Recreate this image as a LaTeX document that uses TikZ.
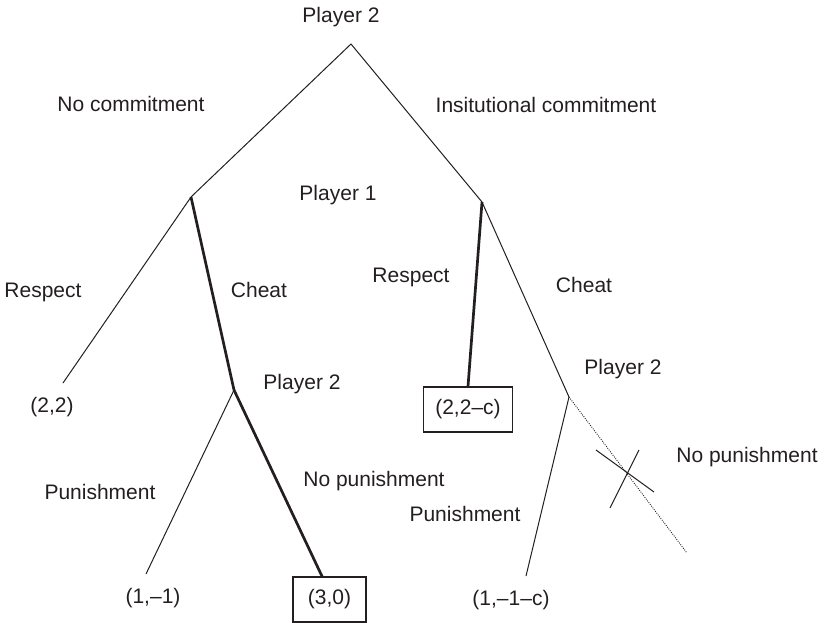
\documentclass[tikz,border=0pt]{standalone}
\usepackage{fontspec}
\setmainfont{Liberation Sans}
\usetikzlibrary{calc}
\definecolor{ink}{HTML}{231F20}
\tikzset{
  lbl/.style={text=ink, inner sep=0pt, font=\fontsize{21}{25}\selectfont},
  branch/.style={draw=ink, line width=1pt},
  chosen/.style={draw=ink, line width=2.7pt},
  pruned/.style={draw=ink, line width=0.9pt, dash pattern=on 0.9pt off 1.3pt},
  payoffbox/.style={lbl, draw=ink, line width=1.1pt, minimum height=45pt, inner xsep=12pt},
}
\begin{document}
\begin{tikzpicture}[x=1pt,y=-1pt]
\useasboundingbox (0,0) rectangle (824,622);

% decision vertices
\coordinate (r) at (351,44);
\coordinate (a) at (191,197);
\coordinate (b) at (482,202);
\coordinate (c) at (234,390);
\coordinate (d) at (569,397);

% terminal points
\coordinate (t22) at (63,383);
\coordinate (t11) at (146,574);
\coordinate (t11c) at (526,576);
\coordinate (tnp) at (687,553);
\node[payoffbox, minimum width=73pt] (box30) at (329.5,599.5) {(3,0)};
\node[payoffbox] (box22c) at (468,409.5) {(2,2–c)};

% crossing mark on the pruned branch
\coordinate (xa1) at (596,450);
\coordinate (xa2) at (654,492);
\coordinate (xb1) at (639,450);
\coordinate (xb2) at (610,508);

% branches
\draw[branch] (a) -- (r) -- (b);
\draw[branch] (a) -- (t22);
\draw[chosen] (a) -- (c);
\draw[branch] (c) -- (t11);
\draw[chosen] (c) -- ($(box30.north west)!0.4!(box30.north east)$);
\draw[chosen] (b) -- (box22c.north);
\draw[branch] (b) -- (d);
\draw[branch] (d) -- (t11c);
\draw[pruned] (d) -- (tnp);
\draw[branch] (xa1) -- (xa2);
\draw[branch] (xb1) -- (xb2);

% labels
\node[lbl] (p2top) at (341,17) {Player 2};
\node[lbl] (nocom) at (131,104) {No commitment};
\node[lbl] (inscom) at (546,105) {Insitutional commitment};
\node[lbl] (p1) at (338,195) {Player 1};
\node[lbl] (respL) at (43,292) {Respect};
\node[lbl] (cheatL) at (259,290) {Cheat};
\node[lbl] (respR) at (411,277) {Respect};
\node[lbl] (cheatR) at (584,285) {Cheat};
\node[lbl] (p2mid) at (302,384) {Player 2};
\node[lbl] (p2right) at (623,369) {Player 2};
\node[lbl] (pay22) at (52,407) {(2,2)};
\node[lbl] (punL) at (100,492) {Punishment};
\node[lbl] (nopunL) at (374,481) {No punishment};
\node[lbl] (pay11) at (153,598) {(1,–1)};
\node[lbl] (punR) at (465,514) {Punishment};
\node[lbl] (nopunR) at (747,457) {No punishment};
\node[lbl] (pay11c) at (511,600) {(1,–1–c)};
\end{tikzpicture}
\end{document}
